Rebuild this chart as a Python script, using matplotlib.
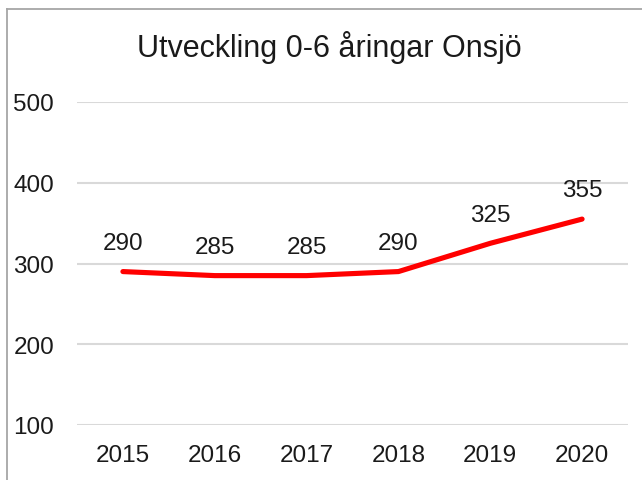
import matplotlib
matplotlib.use("Agg")
import matplotlib.pyplot as plt
from matplotlib.lines import Line2D

years = ["2015", "2016", "2017", "2018", "2019", "2020"]
values = [290, 285, 285, 290, 325, 355]
yticks = [100, 200, 300, 400, 500]
title = "Utveckling 0-6 åringar Onsjö"

plt.rcParams['font.family'] = ['Liberation Sans', 'DejaVu Sans']

W, H = 642, 481
fig = plt.figure(figsize=(W / 100, H / 100), dpi=100)
fig.patch.set_facecolor("white")

ax = fig.add_axes([77 / W, 1 - 426 / H, (628 - 77) / W, (426 - 103) / H])
x = list(range(len(years)))
ax.plot(x, values, color="#ff0000", lw=3.7, solid_capstyle="round", solid_joinstyle="round", zorder=3)

for xi, v in zip(x, values):
    ax.annotate(str(v), (xi, v), xytext=(0, 16.3), textcoords="offset points",
                ha="center", va="baseline", fontsize=17.5, color="#1a1a1a")

ax.set_xlim(-0.5, len(years) - 0.5)
ax.set_ylim(100, 500)
ax.set_yticks(yticks)
ax.set_yticklabels([str(t) for t in yticks])
ax.set_xticks(x)
ax.set_xticklabels(years)
ax.tick_params(axis="both", length=0, labelsize=17.5, labelcolor="#1a1a1a")
ax.tick_params(axis="y", pad=16.5)
ax.tick_params(axis="x", pad=14)
ax.grid(axis="y", color="#d9d9d9", lw=1.5)
ax.set_axisbelow(True)
for s in ax.spines.values():
    s.set_visible(False)

fig.text(329 / W, 1 - 48 / H, title, ha="center", va="center", fontsize=22, color="#1a1a1a")

# outer chart border (partially visible)
fig.add_artist(Line2D([7 / W, 7 / W], [0, 1 - 10 / H], transform=fig.transFigure, color="#a6a6a6", lw=1.3))
fig.add_artist(Line2D([7 / W, 1], [1 - 10 / H, 1 - 10 / H], transform=fig.transFigure, color="#a6a6a6", lw=1.3))

fig.savefig("out.png", dpi=100, facecolor="white")
